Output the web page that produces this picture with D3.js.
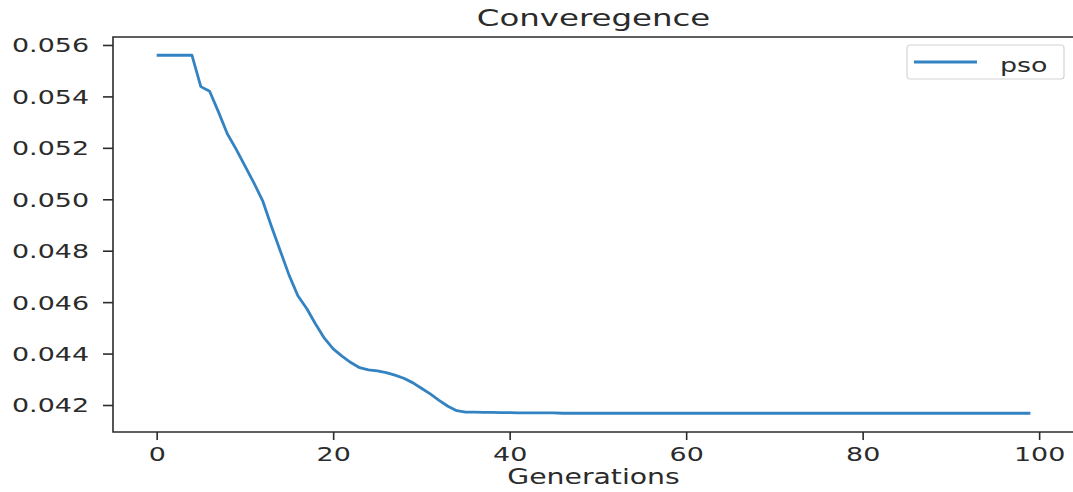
<!DOCTYPE html>
<html>
<head>
<meta charset="utf-8">
<script src="https://cdn.jsdelivr.net/npm/d3@7"></script>
<style>
  body { margin: 0; background: #fff; }
  svg { display: block; }
  text { font-family: "DejaVu Sans", sans-serif; fill: #2b2b2b; }
</style>
</head>
<body>
<svg id="chart" width="1073" height="492"></svg>
<script>
  // Data
  var generations = d3.range(0, 100);
  var psoFitness = [
    0.05560, 0.05560, 0.05560, 0.05560, 0.05560, 0.05438, 0.05420, 0.05340, 0.05255, 0.05195,
    0.05130, 0.05065, 0.04995, 0.04895, 0.04800, 0.04705, 0.04625, 0.04575, 0.04515, 0.04460,
    0.04418, 0.04390, 0.04365, 0.04345, 0.04337, 0.04333, 0.04326, 0.04316, 0.04304, 0.04287,
    0.04265, 0.04243, 0.04218, 0.04195, 0.04178, 0.04172, 0.04172, 0.04171, 0.04171, 0.04170,
    0.04170, 0.04169, 0.04169, 0.04169, 0.04169, 0.04169, 0.04168, 0.04168, 0.04168, 0.04168,
    0.04168, 0.04168, 0.04168, 0.04168, 0.04168, 0.04168, 0.04168, 0.04168, 0.04168, 0.04168,
    0.04168, 0.04168, 0.04168, 0.04168, 0.04168, 0.04168, 0.04168, 0.04168, 0.04168, 0.04168,
    0.04168, 0.04168, 0.04168, 0.04168, 0.04168, 0.04168, 0.04168, 0.04168, 0.04168, 0.04168,
    0.04168, 0.04168, 0.04168, 0.04168, 0.04168, 0.04168, 0.04168, 0.04168, 0.04168, 0.04168,
    0.04168, 0.04168, 0.04168, 0.04168, 0.04168, 0.04168, 0.04168, 0.04168, 0.04168, 0.04168
  ];
  var xTicks = [0, 20, 40, 60, 80, 100];
  var yTicks = [0.042, 0.044, 0.046, 0.048, 0.050, 0.052, 0.054, 0.056];
  var seriesName = "pso";

  (function () {
    // Layout (the reference image is stretched sideways, so text is too)
    var plotLeft = 113, plotRight = 1074, plotTop = 37, plotBottom = 432;
    var stretch = 1.38;
    var ink = "#2b2b2b";
    var blue = "#3383c2";

    var svg = d3.select("#chart");

    var x = d3.scaleLinear().domain([-4.95, 103.95]).range([plotLeft, plotRight]);
    var y = d3.scaleLinear().domain([0.04095, 0.05631]).range([plotBottom, plotTop]);

    // Line
    var line = d3.line()
        .x(function(d, i) { return x(generations[i]); })
        .y(function(d) { return y(d); });

    svg.append("path")
        .datum(psoFitness)
        .attr("fill", "none")
        .attr("stroke", blue)
        .attr("stroke-width", 2.8)
        .attr("stroke-linejoin", "round")
        .attr("d", line);

    // Axes
    var yAxis = svg.append("g")
        .attr("transform", "translate(" + plotLeft + ",0)")
        .call(d3.axisLeft(y).tickValues(yTicks).tickSize(10).tickFormat(d3.format(".3f")));

    var xAxis = svg.append("g")
        .attr("transform", "translate(0," + plotBottom + ")")
        .call(d3.axisBottom(x).tickValues(xTicks).tickSize(8).tickFormat(d3.format("d")));

    [yAxis, xAxis].forEach(function(g) {
      g.select(".domain").remove();
      g.selectAll(".tick line").attr("stroke", ink).attr("stroke-width", 1.6);
      g.selectAll(".tick text").attr("fill", ink).style("font-size", "19.5px")
          .style("font-family", "DejaVu Sans, sans-serif");
    });

    yAxis.selectAll(".tick text")
        .attr("x", null).attr("dy", null)
        .attr("text-anchor", "end")
        .attr("transform", "translate(-24,7) scale(" + stretch + ",1)");

    xAxis.selectAll(".tick text")
        .attr("y", null).attr("dy", null)
        .attr("text-anchor", "middle")
        .attr("transform", "translate(0,29) scale(" + stretch + ",1)");

    // Spines
    svg.append("path")
        .attr("d", "M" + plotRight + "," + plotTop + "H" + plotLeft + "V" + plotBottom + "H" + plotRight)
        .attr("fill", "none")
        .attr("stroke", ink)
        .attr("stroke-width", 1.6);

    // Title and axis label
    svg.append("text")
        .attr("text-anchor", "middle")
        .attr("transform", "translate(" + (plotLeft + plotRight) / 2 + ",26) scale(" + stretch + ",1)")
        .style("font-size", "23.5px")
        .text("Converegence");

    svg.append("text")
        .attr("text-anchor", "middle")
        .attr("transform", "translate(" + (plotLeft + plotRight) / 2 + ",484) scale(" + stretch + ",1)")
        .style("font-size", "20.5px")
        .text("Generations");

    // Legend
    var legend = svg.append("g").attr("transform", "translate(907,45)");
    legend.append("rect")
        .attr("width", 157).attr("height", 34)
        .attr("rx", 3).attr("ry", 3)
        .attr("fill", "#fff")
        .attr("stroke", "#d4d4d4")
        .attr("stroke-width", 1.2);
    legend.append("line")
        .attr("x1", 7).attr("x2", 70).attr("y1", 17).attr("y2", 17)
        .attr("stroke", blue).attr("stroke-width", 2.8);
    legend.append("text")
        .attr("transform", "translate(93,27) scale(" + stretch + ",1)")
        .style("font-size", "19.5px")
        .text(seriesName);
  })();
</script>
</body>
</html>
